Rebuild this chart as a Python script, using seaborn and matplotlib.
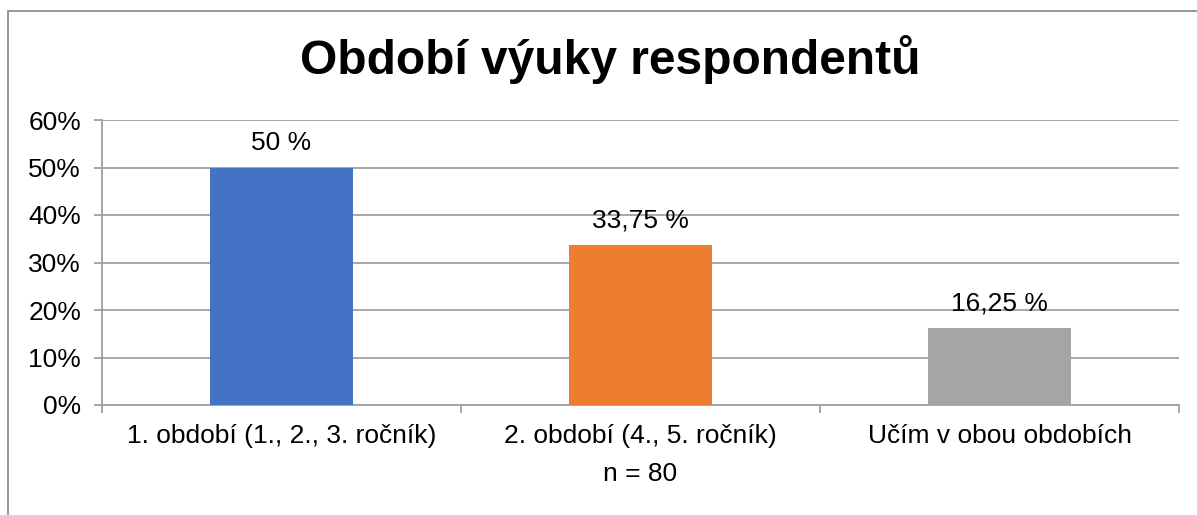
import matplotlib
matplotlib.use("Agg")
import matplotlib.pyplot as plt
import seaborn as sns
import pandas as pd
from matplotlib.patches import Rectangle

categories = ["1. období (1., 2., 3. ročník)", "2. období (4., 5. ročník)", "Učím v obou obdobích"]
values = [50, 33.75, 16.25]
labels = ["50 %", "33,75 %", "16,25 %"]
colors = ["#4472C4", "#ED7D31", "#A5A5A5"]

sns.set_style("white")
plt.rcParams['font.family'] = ['Liberation Sans', 'DejaVu Sans']
plt.rcParams['text.color'] = 'black'
plt.rcParams['xtick.color'] = 'black'
plt.rcParams['ytick.color'] = 'black'
plt.rcParams['axes.labelcolor'] = 'black'

df = pd.DataFrame({'kat': categories, 'hodnota': values})

fig = plt.figure(figsize=(11.97, 5.15), dpi=100)
ax = fig.add_axes([102 / 1197, 1 - 405 / 515, (1179 - 102) / 1197, (405 - 120) / 515])

sns.barplot(x='kat', y='hodnota', data=df, hue='kat', palette=colors, legend=False,
            width=0.4, ax=ax, saturation=1, zorder=3, linewidth=0)

ax.set_ylim(0, 60)
ax.set_xlim(-0.5, 2.5)
ax.set_yticks(range(0, 61, 10))
ax.set_yticklabels([f"{v}%" for v in range(0, 61, 10)], fontsize=19)
ax.yaxis.grid(True, color='#a0a0a0', linewidth=1.3, zorder=0)
ax.set_axisbelow(True)

for s in ['top', 'right']:
    ax.spines[s].set_visible(False)
for s in ['left', 'bottom']:
    ax.spines[s].set_color('#a0a0a0')
    ax.spines[s].set_linewidth(1.3)

ax.tick_params(axis='y', length=6, width=1.3, color='#a0a0a0', left=True, pad=9)
ax.set_xticks([-0.5, 0.5, 1.5, 2.5], minor=True)
ax.tick_params(axis='x', which='minor', length=6, width=1.3, color='#a0a0a0', bottom=True)
ax.tick_params(axis='x', which='major', length=0, labelsize=19, pad=14)

for i, (v, t) in enumerate(zip(values, labels)):
    ax.annotate(t, (i, v), xytext=(0, 9), textcoords='offset points',
                ha='center', va='bottom', fontsize=19)

ax.set_xlabel('n = 80', fontsize=19, labelpad=10)
ax.set_ylabel('')

fig.text(610 / 1197, 1 - 60 / 515, 'Období výuky respondentů', ha='center', va='center',
         fontsize=34.5, fontweight='bold')

fig.patches.append(Rectangle((8 / 1197, -0.1), 1.2, 1 - 11 / 515 + 0.1, transform=fig.transFigure,
                             fill=False, edgecolor='#8c8c8c', linewidth=1.3, zorder=0))

fig.savefig('out.png', dpi=100)
